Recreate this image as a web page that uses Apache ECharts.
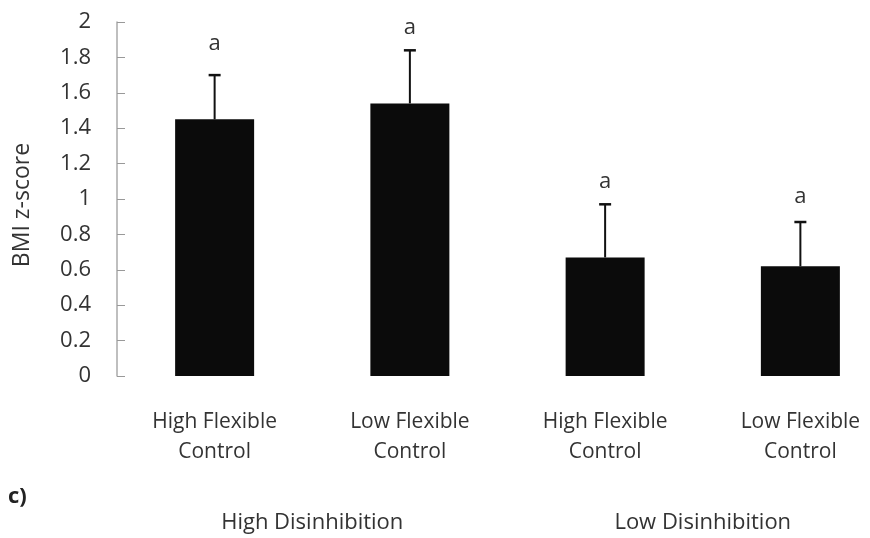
<!DOCTYPE html>
<html>
<head>
<meta charset="utf-8">
<script src="https://cdn.jsdelivr.net/npm/echarts@6/dist/echarts.min.js"></script>
<style>html,body{margin:0;padding:0;background:#fff;}#c{width:870px;height:538px;}</style>
</head>
<body>
<div id="c"></div>
<script>
var categories = ['High Flexible\nControl', 'Low Flexible\nControl', 'High Flexible\nControl', 'Low Flexible\nControl'];
var means = [1.45, 1.54, 0.67, 0.62];
var errorTops = [1.70, 1.84, 0.97, 0.87];
var letters = ['a', 'a', 'a', 'a'];
var letterY = [1.88, 1.965, 1.10, 1.01];
var yTicks = [0, 0.2, 0.4, 0.6, 0.8, 1, 1.2, 1.4, 1.6, 1.8, 2];
var groupLabels = ['High Disinhibition', 'Low Disinhibition'];
var panelLabel = 'c)';
var yTitle = 'BMI z-score';

var FONT = '"Open Sans"';
var chart = echarts.init(document.getElementById('c'), null, {renderer: 'canvas'});

var errData = categories.map(function (c, i) { return [i, means[i], errorTops[i], letterY[i]]; });

chart.setOption({
  animation: false,
  backgroundColor: '#fff',
  grid: {left: 117, top: 22, height: 354, width: 781, outerBoundsMode: 'none', containLabel: false},
  xAxis: [{
    type: 'category',
    data: categories,
    axisLine: {show: false},
    axisTick: {show: false},
    axisLabel: {color: '#333', fontFamily: FONT, fontSize: 21, lineHeight: 30, margin: 31, interval: 0}
  }, {
    type: 'category',
    data: groupLabels,
    position: 'bottom',
    axisLine: {show: false},
    axisTick: {show: false},
    axisLabel: {color: '#333', fontFamily: FONT, fontSize: 22, lineHeight: 30, margin: 132, interval: 0}
  }],
  yAxis: {
    type: 'value',
    min: 0, max: 2, interval: 0.2,
    axisLine: {show: true, lineStyle: {color: '#aaa', width: 1.5}},
    axisTick: {show: true, inside: true, length: 8, lineStyle: {color: '#999', width: 1}},
    splitLine: {show: false},
    axisLabel: {
      color: '#333', fontFamily: FONT, fontSize: 22, margin: 26,
      formatter: function (v) { return String(Math.round(v * 10) / 10); }
    }
  },
  graphic: [
    {type: 'text', left: 8, top: 486, style: {text: panelLabel, font: 'bold 22px ' + FONT, fill: '#222'}},
    {type: 'text', x: 22, y: 205, rotation: Math.PI / 2, style: {text: yTitle, font: '23px ' + FONT, fill: '#333', align: 'center', verticalAlign: 'middle'}}
  ],
  series: [
    {
      type: 'bar',
      data: means,
      barWidth: 79,
      itemStyle: {color: '#0b0b0b'},
      z: 2
    },
    {
      type: 'custom',
      data: errData,
      z: 3,
      renderItem: function (params, api) {
        var x = api.coord([api.value(0), 0])[0];
        var yb = api.coord([api.value(0), api.value(1)])[1];
        var yt = api.coord([api.value(0), api.value(2)])[1];
        var yl = api.coord([api.value(0), api.value(3)])[1];
        var txt = letters[params.dataIndex];
        return {
          type: 'group',
          children: [
            {type: 'line', shape: {x1: x, y1: yb, x2: x, y2: yt}, style: {stroke: '#111', lineWidth: 2}},
            {type: 'line', shape: {x1: x - 6, y1: yt, x2: x + 6, y2: yt}, style: {stroke: '#111', lineWidth: 2.5}},
            {type: 'text', x: x, y: yl, style: {text: txt, font: '22px ' + FONT, fill: '#333', align: 'center', verticalAlign: 'middle'}}
          ]
        };
      }
    }
  ]
});
</script>
</body>
</html>
